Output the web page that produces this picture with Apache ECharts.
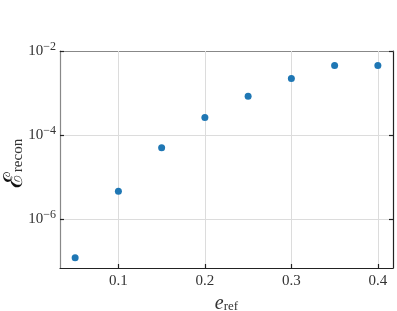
<!DOCTYPE html>
<html><head><meta charset="utf-8">
<script src="https://cdn.jsdelivr.net/npm/echarts@6/dist/echarts.min.js"></script>
<style>html,body{margin:0;padding:0;background:#fff}#c{width:397px;height:311px}</style>
</head><body><div id="c"></div>
<script>
const eRef = [0.05, 0.10, 0.15, 0.20, 0.25, 0.30, 0.35, 0.40];
const eRecon = [1.2e-7, 4.6e-6, 5.0e-5, 2.6e-4, 8.4e-4, 2.2e-3, 4.5e-3, 4.5e-3];
const xTicks = [0.1, 0.2, 0.3, 0.4];
const yTicks = [1e-6, 1e-4, 1e-2];
const xMin = 0.0325, xMax = 0.4175;
const yMin = 6.8e-8, yMax = 1e-2;

const FONT = 'Liberation Serif';
const chart = echarts.init(document.getElementById('c'));
const supFmt = v => '{b|10}{s|−' + Math.abs(Math.round(Math.log10(v))) + '}';
const gridLine = {show: true, lineStyle: {color: '#dcdcdc', width: 1}};
chart.setOption({
  animation: false,
  grid: {left: 60, right: 4, top: 51, bottom: 43, containLabel: false, outerBoundsMode: 'none'},
  xAxis: [{
    type: 'value', min: xMin, max: xMax, position: 'bottom', z: 3,
    axisLine: {lineStyle: {color: '#222', width: 1.2}},
    axisTick: {inside: true, length: 4, customValues: xTicks, lineStyle: {color: '#222', width: 1.2}},
    axisLabel: {customValues: xTicks, fontFamily: FONT, fontSize: 15, color: '#333', margin: 6,
      formatter: v => v.toFixed(1)},
    splitLine: gridLine,
    name: '{e|e}{r|ref}', nameLocation: 'middle', nameGap: 22,
    nameTextStyle: {rich: {
      e: {fontFamily: FONT, fontStyle: 'italic', fontSize: 20, color: '#333'},
      r: {fontFamily: FONT, fontSize: 13, color: '#333', padding: [0,0,-5,0]}
    }}
  }, {
    type: 'value', min: xMin, max: xMax, position: 'top',
    axisLine: {lineStyle: {color: '#888', width: 1.2}},
    axisTick: {show: false}, axisLabel: {show: false}, splitLine: {show: false}
  }],
  yAxis: [{
    type: 'log', logBase: 10, min: yMin, max: yMax, position: 'left',
    axisLine: {show: true, lineStyle: {color: '#888', width: 1.2}},
    axisTick: {show: true, inside: true, length: 4, customValues: yTicks, lineStyle: {color: '#222', width: 1.2}},
    minorTick: {show: false},
    axisLabel: {customValues: yTicks, margin: 4, formatter: supFmt,
      rich: {
        b: {fontFamily: FONT, fontSize: 15, color: '#333'},
        s: {fontFamily: FONT, fontSize: 12, color: '#333', padding: [0,0,8,0]}
      }},
    splitLine: gridLine,
    name: '{e|ℰ}{r|recon}', nameLocation: 'middle', nameGap: 32, nameRotate: 90,
    nameMoveOverlap: false,
    nameTextStyle: {rich: {
      e: {fontFamily: 'DejaVu Serif', fontSize: 26, color: '#111'},
      r: {fontFamily: FONT, fontSize: 15, color: '#333', padding: [0,8,-7,0]}
    }}
  }, {
    type: 'log', logBase: 10, min: yMin, max: yMax, position: 'right',
    axisLine: {show: true, lineStyle: {color: '#222', width: 1.2}},
    axisTick: {show: true, inside: true, length: 4, customValues: yTicks, lineStyle: {color: '#222', width: 1.2}},
    axisLabel: {show: false}, splitLine: {show: false}
  }],
  series: [{
    type: 'scatter', xAxisIndex: 0, yAxisIndex: 0,
    data: eRef.map((x, i) => [x, eRecon[i]]),
    symbolSize: 7, itemStyle: {color: '#1f77b4', opacity: 1}, z: 5
  }]
});
</script></body></html>
